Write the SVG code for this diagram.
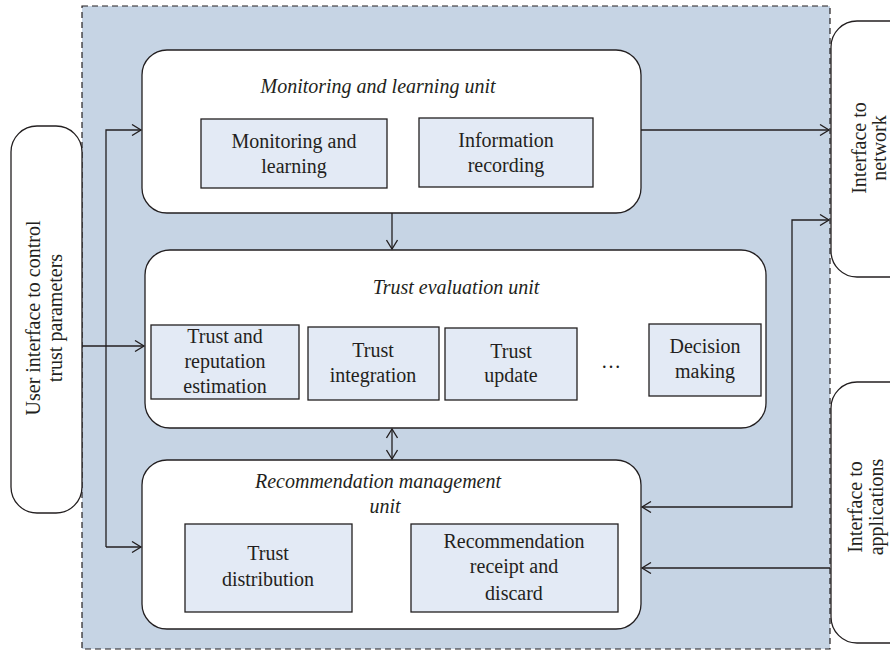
<svg xmlns="http://www.w3.org/2000/svg" width="890" height="650" viewBox="0 0 890 650">
<style>
text{font-family:'Liberation Serif','DejaVu Serif','Noto Serif',serif;font-size:20px;fill:#231f20;text-anchor:middle}
.it{font-style:italic}
.unit{fill:#fff;stroke:#231f20;stroke-width:1.3}
.box{fill:#e3eaf5;stroke:#231f20;stroke-width:1.3}
.side{fill:#fff;stroke:#231f20;stroke-width:1.3}
.ln{fill:none;stroke:#231f20;stroke-width:1.3}
</style>
<defs>
<marker id="ah" markerWidth="12" markerHeight="12" refX="10" refY="6" orient="auto-start-reverse" markerUnits="userSpaceOnUse">
<path d="M1,0.5 L10,6 L1,11.5" fill="none" stroke="#231f20" stroke-width="1.3"/>
</marker>
</defs>
<rect x="0" y="0" width="890" height="650" fill="#fff"/>
<rect id="frame" x="82" y="6" width="748" height="643" fill="#c6d4e4" stroke="#231f20" stroke-width="1.2" stroke-dasharray="6,4"/>

<g font-family="Liberation Serif, DejaVu Serif, serif">
<g id="user-interface">
<rect class="side" x="11" y="126" width="71" height="387" rx="26"/>
<text transform="translate(40,318) rotate(-90)">User interface to control</text>
<text transform="translate(62,318) rotate(-90)">trust parameters</text>
</g>
<g id="interface-network">
<rect class="side" x="831" y="21" width="90" height="256" rx="26"/>
<text transform="translate(866,148) rotate(-90)">Interface to</text>
<text transform="translate(886,148) rotate(-90)">network</text>
</g>
<g id="interface-applications">
<rect class="side" x="831" y="382" width="90" height="261" rx="26"/>
<text transform="translate(862,507) rotate(-90)">Interface to</text>
<text transform="translate(883,507) rotate(-90)">applications</text>
</g>

<g id="monitoring-unit">
<rect class="unit" x="142" y="50" width="499" height="163" rx="25"/>
<text class="it" x="378" y="93">Monitoring and learning unit</text>
<rect class="box" x="201" y="119" width="186" height="69"/>
<text x="294" y="148">Monitoring and</text>
<text x="294" y="173">learning</text>
<rect class="box" x="419" y="118" width="174" height="69"/>
<text x="506" y="147">Information</text>
<text x="506" y="172">recording</text>
</g>

<g id="trust-evaluation-unit">
<rect class="unit" x="145" y="250" width="621" height="178" rx="25"/>
<text class="it" x="456" y="294">Trust evaluation unit</text>
<rect class="box" x="151" y="325" width="148" height="74"/>
<text x="225" y="343">Trust and</text>
<text x="225" y="368">reputation</text>
<text x="225" y="393">estimation</text>
<rect class="box" x="308" y="327" width="131" height="73"/>
<text x="373" y="357">Trust</text>
<text x="373" y="382">integration</text>
<rect class="box" x="445" y="328" width="132" height="72"/>
<text x="511" y="358">Trust</text>
<text x="511" y="382">update</text>
<text x="611" y="368">…</text>
<rect class="box" x="649" y="324" width="112" height="72"/>
<text x="705" y="353">Decision</text>
<text x="705" y="378">making</text>
</g>

<g id="recommendation-unit">
<rect class="unit" x="142" y="460" width="499" height="169" rx="25"/>
<text class="it" x="378" y="488">Recommendation management</text>
<text class="it" x="385" y="513">unit</text>
<rect class="box" x="185" y="524" width="167" height="88"/>
<text x="268" y="560">Trust</text>
<text x="268" y="586">distribution</text>
<rect class="box" x="411" y="524" width="207" height="88"/>
<text x="514" y="548">Recommendation</text>
<text x="514" y="573">receipt and</text>
<text x="514" y="600">discard</text>
</g>
</g>

<g id="connectors">
<path class="ln" d="M106,547 V130 H141" marker-end="url(#ah)"/>
<path class="ln" d="M106,547 H141" marker-end="url(#ah)"/>
<path class="ln" d="M82,346 H144" marker-end="url(#ah)"/>
<path class="ln" d="M641,130 H829" marker-end="url(#ah)"/>
<path class="ln" d="M392,213 V249" marker-end="url(#ah)"/>
<path class="ln" d="M392,429 V459" marker-start="url(#ah)" marker-end="url(#ah)"/>
<path class="ln" d="M642,507 H792 V220 H829" marker-start="url(#ah)" marker-end="url(#ah)"/>
<path class="ln" d="M830,568 H642" marker-end="url(#ah)"/>
</g>
</svg>
